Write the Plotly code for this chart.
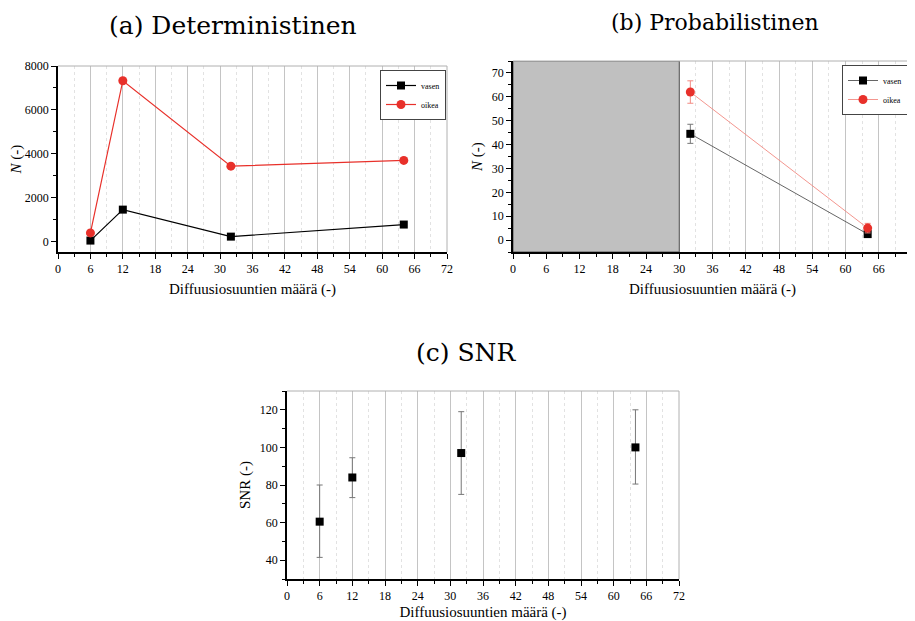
import plotly.graph_objects as go

# ---- data ----
x_a = [6, 12, 32, 64]
vasen_a = [50, 1460, 230, 780]
oikea_a = [400, 7330, 3440, 3700]

x_b = [32, 64]
vasen_b = [44.5, 2.5]
vasen_b_err = [4.0, 1.0]
oikea_b = [62.0, 5.0]
oikea_b_err = [4.7, 2.0]

x_c = [6, 12, 32, 64]
snr_c = [60.5, 84.0, 97.0, 100.0]
snr_c_plus = [19.5, 10.5, 22.0, 20.0]
snr_c_minus = [19.0, 10.7, 22.0, 19.5]

x_ticks = [0, 6, 12, 18, 24, 30, 36, 42, 48, 54, 60, 66, 72]
titles = ["(a) Deterministinen", "(b) Probabilistinen", "(c) SNR"]
xlabel = "Diffuusiosuuntien määrä (-)"

SERIF = "Liberation Serif, Times New Roman, serif"
TITLE_FONT = "DejaVu Serif, serif"

# page body has an 8px default margin; figure is sized to fit the window
OFF = 8
W, H = 915 - OFF, 621 - OFF


def px(x):
    return (x - OFF) / W


def py(y):
    return 1 - (y - OFF) / H


fig = go.Figure()

# Panel (a)
fig.add_trace(go.Scatter(x=x_a, y=vasen_a, mode="lines+markers", name="vasen",
                         line=dict(color="black", width=1.2),
                         marker=dict(symbol="square", size=8, color="black"),
                         xaxis="x", yaxis="y", legend="legend"))
fig.add_trace(go.Scatter(x=x_a, y=oikea_a, mode="lines+markers", name="oikea",
                         line=dict(color="#e8302a", width=1.2),
                         marker=dict(symbol="circle", size=9, color="#e8302a"),
                         xaxis="x", yaxis="y", legend="legend"))

# Panel (b)
fig.add_trace(go.Scatter(x=x_b, y=vasen_b, mode="lines+markers", name="vasen",
                         line=dict(color="#555555", width=0.9),
                         marker=dict(symbol="square", size=8, color="black"),
                         error_y=dict(type="data", array=vasen_b_err, color="#777777",
                                      thickness=1, width=3),
                         xaxis="x2", yaxis="y2", legend="legend2"))
fig.add_trace(go.Scatter(x=x_b, y=oikea_b, mode="lines+markers", name="oikea",
                         line=dict(color="#f28a82", width=0.9),
                         marker=dict(symbol="circle", size=9, color="#e8302a"),
                         error_y=dict(type="data", array=oikea_b_err, color="#f28a82",
                                      thickness=1, width=3),
                         xaxis="x2", yaxis="y2", legend="legend2"))

# Panel (c)
fig.add_trace(go.Scatter(x=x_c, y=snr_c, mode="markers", name="SNR", showlegend=False,
                         marker=dict(symbol="square", size=8, color="black"),
                         error_y=dict(type="data", symmetric=False, array=snr_c_plus,
                                      arrayminus=snr_c_minus, color="#777777",
                                      thickness=1, width=3),
                         xaxis="x3", yaxis="y3"))


def xaxis_cfg(domain, anchor):
    return dict(domain=domain, anchor=anchor, range=[0, 72], tickvals=x_ticks,
                automargin=False,
                showline=True, linecolor="black", linewidth=1.5, mirror=False,
                ticks="outside", ticklen=5, tickwidth=1, tickcolor="black",
                showgrid=True, gridcolor="#c4c4c4", gridwidth=1, zeroline=False,
                minor=dict(dtick=3, tick0=3, ticks="outside", ticklen=3, tickcolor="black",
                           showgrid=True, gridcolor="#e2e2e2", griddash="dot", gridwidth=1),
                tickfont=dict(family=SERIF, size=12, color="black"),
                title=dict(text=xlabel, font=dict(family=SERIF, size=15, color="black"),
                           standoff=8))


def yaxis_cfg(domain, anchor, rng, dtick, minor_dtick, title):
    return dict(domain=domain, anchor=anchor, range=rng, dtick=dtick, tick0=0,
                automargin=False,
                showline=True, linecolor="black", linewidth=1.5, mirror=False,
                ticks="outside", ticklen=5, tickwidth=1, tickcolor="black",
                showgrid=False, zeroline=False,
                minor=dict(dtick=minor_dtick, ticks="outside", ticklen=3, tickcolor="black",
                           showgrid=False),
                tickfont=dict(family=SERIF, size=12, color="black"),
                title=dict(text=title, font=dict(family=SERIF, size=15, color="black"),
                           standoff=6))


dom_ax = [px(58), px(447)]
dom_ay = [py(252), py(66)]
dom_bx = [px(513), px(912)]
dom_by = [py(252), py(61)]
dom_cx = [px(287), px(679)]
dom_cy = [py(579), py(391)]

legend_style = dict(xanchor="right", yanchor="top", xref="paper", yref="paper",
                    bgcolor="white", bordercolor="#444444", borderwidth=1,
                    font=dict(family=SERIF, size=8, color="black"),
                    itemwidth=30, tracegroupgap=0)

fig.update_layout(
    width=W, height=H,
    margin=dict(l=0, r=0, t=0, b=0, autoexpand=False),
    paper_bgcolor="white", plot_bgcolor="white",
    xaxis=xaxis_cfg(dom_ax, "y"),
    yaxis=yaxis_cfg(dom_ay, "x", [-470, 8000], 2000, 1000, "<i>N</i> (-)"),
    xaxis2=xaxis_cfg(dom_bx, "y2"),
    yaxis2=yaxis_cfg(dom_by, "x2", [-5, 75], 10, 5, "<i>N</i> (-)"),
    xaxis3=xaxis_cfg(dom_cx, "y3"),
    yaxis3=yaxis_cfg(dom_cy, "x3", [30, 130], 20, 10, "SNR (-)"),
    legend=dict(x=px(446), y=py(70), **legend_style),
    legend2=dict(x=px(908), y=py(65), **legend_style),
)

# shaded region in (b), drawn above the grid but below the data
fig.add_shape(type="rect", xref="x2", yref="y2", x0=0, x1=30, y0=-5, y1=75,
              fillcolor="#c0c0c0", line=dict(color="#555555", width=1), layer="between")

# gray top/right borders
for xr, yr in [("x domain", "y domain"), ("x2 domain", "y2 domain"), ("x3 domain", "y3 domain")]:
    fig.add_shape(type="line", xref=xr, yref=yr, x0=0, x1=1, y0=1, y1=1,
                  line=dict(color="#b0b0b0", width=1))
    fig.add_shape(type="line", xref=xr, yref=yr, x0=1, x1=1, y0=0, y1=1,
                  line=dict(color="#b0b0b0", width=1))

# panel titles
for txt, xp, yp, fs in [(titles[0], 233, 26, 25), (titles[1], 715, 22, 22),
                        (titles[2], 466, 352, 25)]:
    fig.add_annotation(text=txt, x=px(xp), y=py(yp), xref="paper", yref="paper",
                       showarrow=False, xanchor="center", yanchor="middle",
                       font=dict(family=TITLE_FONT, size=fs, color="black"))

fig.write_html("out.html")
